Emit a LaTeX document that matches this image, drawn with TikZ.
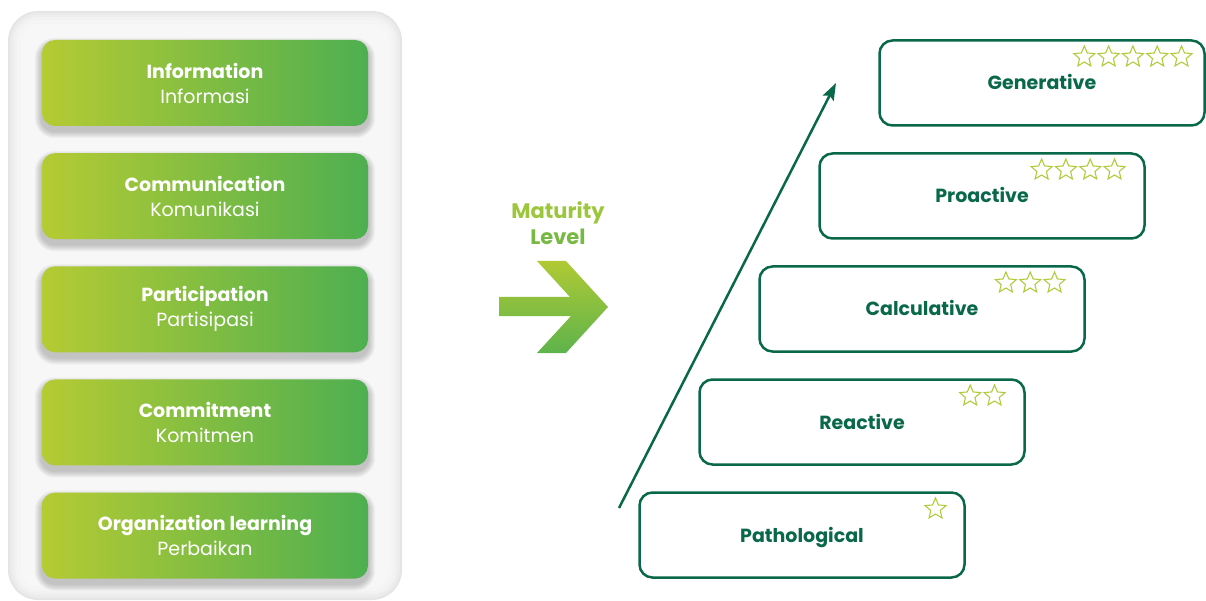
\documentclass[tikz,border=0pt]{standalone}
\usepackage{fontspec}
\setmainfont{Poppins}
\usepackage{xcolor}
\usetikzlibrary{positioning, arrows.meta, shapes.geometric, calc, backgrounds}

\definecolor{limegreen}{RGB}{181,203,51}
\definecolor{leafgreen}{RGB}{78,175,80}
\definecolor{darkteal}{RGB}{10,104,74}
\definecolor{starlime}{RGB}{176,204,60}
\definecolor{maturtop}{RGB}{156,198,59}
\definecolor{maturbot}{RGB}{120,185,68}

\tikzset{
  topic/.style={rounded corners=13pt, minimum width=326pt, minimum height=86pt,
    left color=limegreen, right color=leafgreen, text=white, align=center,
    font=\fontsize{19}{25}\selectfont},
  level/.style={draw=darkteal, line width=2.5pt, rounded corners=13pt, outer sep=0pt,
    minimum width=325pt, minimum height=85pt, text=darkteal,
    font=\fontsize{19}{19}\selectfont\bfseries, text height=14pt, text depth=0pt},
  starmark/.style={star, star points=5, star point ratio=2.2, draw=starlime,
    line width=1.1pt, minimum size=22pt, inner sep=0pt},
}

% stars in the top right corner of a level box
\newcommand{\rating}[3]{%
  \foreach \i in {1,...,#2}
    \node[starmark] (#1-s\i) at ($(#1.north east)+({-#3-24.3*(#2-\i)},16.5)$) {};}

\begin{document}
\begin{tikzpicture}[x=1pt, y=-1pt]
  \useasboundingbox (0,0) rectangle (1206,601);

  \node[topic] (info) at (205,83) {\textbf{Information}\\Informasi};
  \node[topic, below=26.75pt of info] (comm) {\textbf{Communication}\\Komunikasi};
  \node[topic, below=26.75pt of comm] (part) {\textbf{Participation}\\Partisipasi};
  \node[topic, below=26.75pt of part] (commit) {\textbf{Commitment}\\Komitmen};
  \node[topic, below=26.75pt of commit] (learn) {\textbf{Organization learning}\\Perbaikan};

  \begin{pgfonlayer}{background}
    % left panel with soft edge
    \foreach \k/\c/\r in {0/10/30, 2/8/28, 4/6.5/26, 6/5/24, 9/4/21, 13/3/17}
      \fill[black!\c, rounded corners=\r pt] (8+\k,11+\k) rectangle (402-\k,600-\k);
    % soft shadows under the boxes
    \foreach \b in {info,comm,part,commit,learn}
      \foreach \k in {1,...,7}
        \fill[black, opacity=0.03, rounded corners=13pt+\k pt]
          ($(\b.north west)+(-\k,5-\k)$) rectangle ($(\b.south east)+(\k,5+\k)$);
  \end{pgfonlayer}

  % maturity arrow
  \node[align=center, font=\fontsize{21}{26}\selectfont\bfseries] (matur) at (558,223)
    {\textcolor{maturtop}{Maturity}\\\textcolor{maturbot}{Level}};
  \shade[top color=limegreen!95!leafgreen, bottom color=leafgreen!85!limegreen]
    (499,297) -- (570,297) -- (537,261) -- (566,261) -- (608,307) -- (566,353)
    -- (537,353) -- (571,316) -- (499,316) -- cycle;

  % levels
  \node[level] (gen) at (1042,83) {Generative};
  \node[level, below=28pt of gen, xshift=-60pt] (pro) {Proactive};
  \node[level, below=28pt of pro, xshift=-60pt] (calc) {Calculative};
  \node[level, below=28pt of calc, xshift=-60pt] (react) {Reactive};
  \node[level, below=28pt of react, xshift=-60pt] (patho) {Pathological};

  \rating{gen}{5}{23}
  \rating{pro}{4}{30}
  \rating{calc}{3}{30}
  \rating{react}{2}{30}
  \rating{patho}{1}{29}

  \coordinate (rise0) at (619,508);
  \coordinate (rise1) at (836,83);
  \draw[darkteal, line width=2.5pt, -{Stealth[length=17pt, width=12pt, inset=3pt]}] (rise0) -- (rise1);
\end{tikzpicture}
\end{document}
